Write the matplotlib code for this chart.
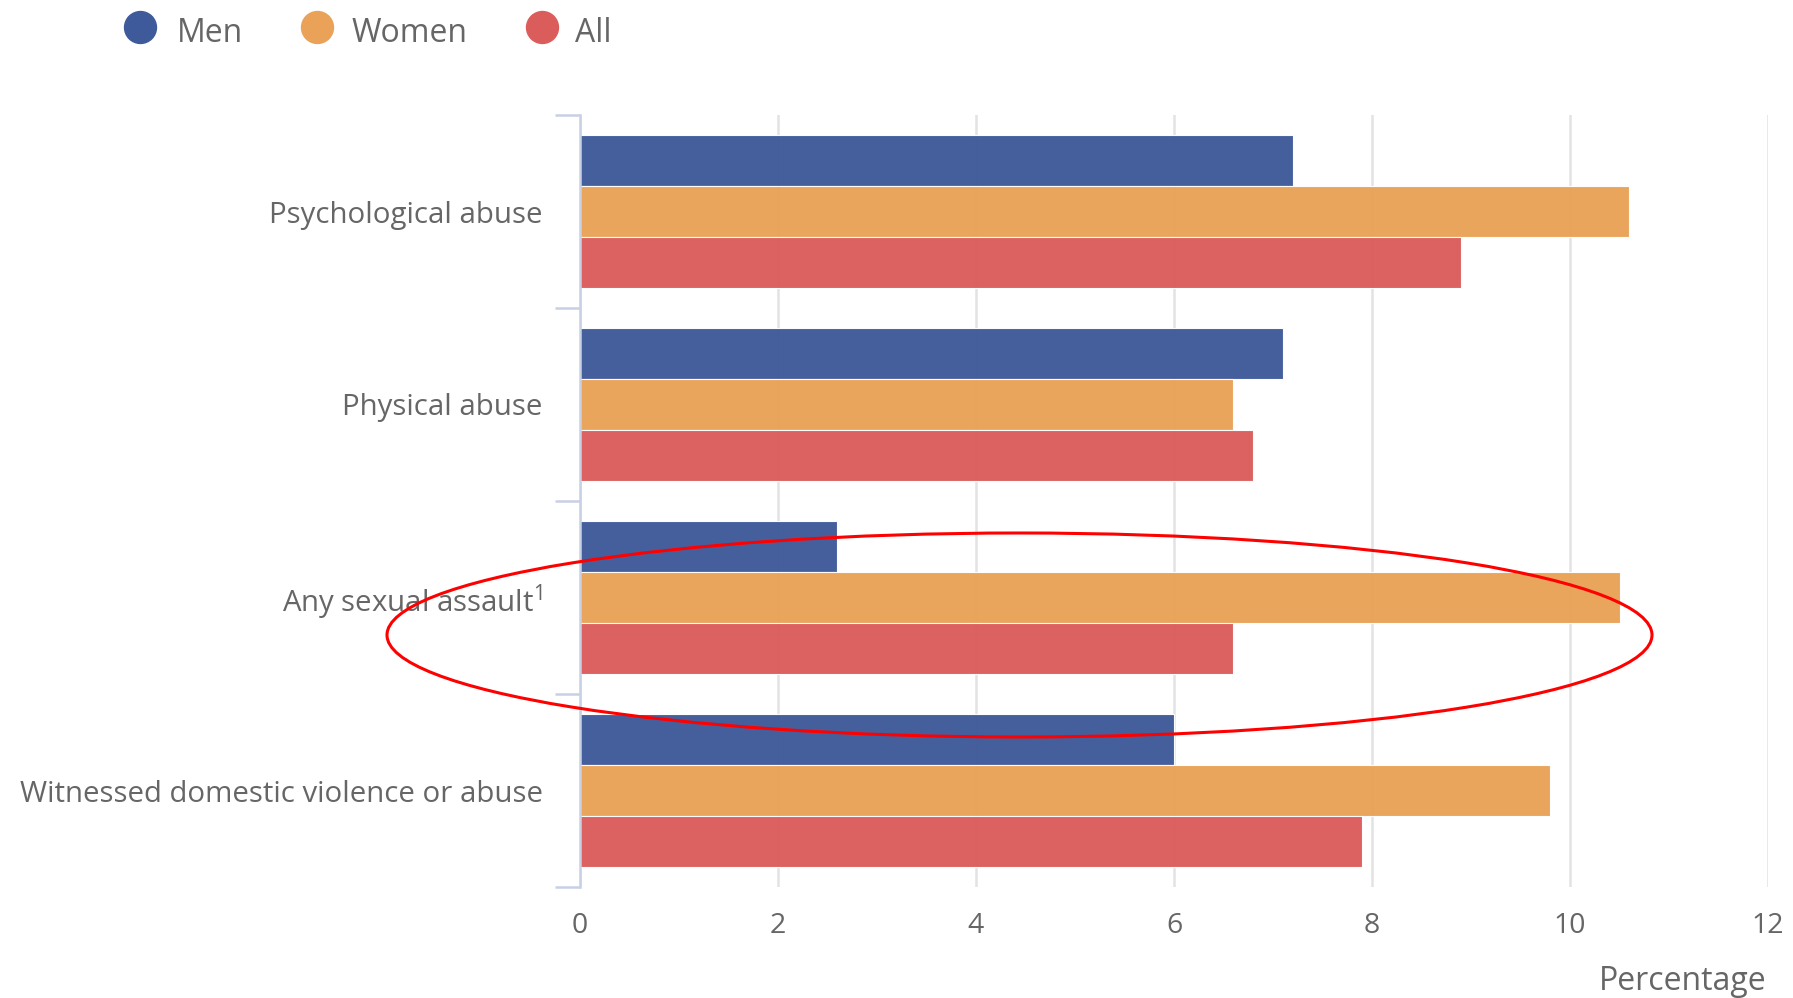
import matplotlib.pyplot as plt
from matplotlib.lines import Line2D
from matplotlib.patches import Ellipse
import numpy as np

plt.rcParams['font.family'] = ['Open Sans', 'DejaVu Sans']
plt.rcParams['mathtext.fontset'] = 'custom'
plt.rcParams['mathtext.rm'] = 'Open Sans'

categories = ['Psychological abuse', 'Physical abuse', 'Any sexual assault$^{1}$',
              'Witnessed domestic violence or abuse']
series = ['Men', 'Women', 'All']
men = [7.2, 7.1, 2.6, 6.0]
women = [10.6, 6.6, 10.5, 9.8]
all_ = [8.9, 6.8, 6.6, 7.9]
x_ticks = [0, 2, 4, 6, 8, 10, 12]

colors = ['#3f5a9a', '#e9a257', '#da5d5b']
text_col = '#666666'
axis_col = '#c8d0e4'

W, H = 1793, 998
fig = plt.figure(figsize=(W / 100, H / 100), dpi=100)
ax = fig.add_axes([580 / W, 1 - 887 / H, (1768 - 580) / W, (887 - 115) / H])

y = np.arange(len(categories))
bh = 0.264
for i, (vals, c) in enumerate(zip([men, women, all_], colors)):
    ax.barh(y + (i - 1) * bh, vals, height=bh, color=c, alpha=0.97,
            edgecolor=(1, 1, 1, 0.35), linewidth=0.8, zorder=2, label=series[i])

ax.set_xlim(0, 12)
ax.set_ylim(len(categories) - 0.5, -0.5)
ax.set_xticks(x_ticks)
ax.set_xticklabels([str(t) for t in x_ticks])
ax.set_yticks(y)
ax.set_yticklabels(categories)
ax.set_yticks(np.arange(len(categories) + 1) - 0.5, minor=True)

ax.grid(axis='x', color='#e3e3e3', linewidth=1.8, zorder=1)
ax.set_axisbelow(True)
for s in ['top', 'right', 'bottom']:
    ax.spines[s].set_visible(False)
ax.spines['left'].set_color(axis_col)
ax.spines['left'].set_linewidth(1.8)

ax.tick_params(axis='x', length=0, pad=18, labelsize=20.5, labelcolor=text_col)
ax.tick_params(axis='y', which='major', length=0, pad=27, labelsize=21.2, labelcolor=text_col)
ax.tick_params(axis='y', which='minor', length=18, width=1.8, color=axis_col)

fig.text(1767 / W, 1 - 990 / H, 'Percentage', ha='right', va='baseline',
         fontsize=23, color=text_col)

# legend drawn by hand to match spacing
leg_circle_x = [140, 317, 542]
leg_text_x = [177, 352, 575]
for name, c, cx, tx in zip(series, colors, leg_circle_x, leg_text_x):
    fig.add_artist(Line2D([cx / W], [1 - 27 / H], transform=fig.transFigure,
                          marker='o', linestyle='none', markersize=23,
                          markerfacecolor=c, markeredgecolor=c))
    fig.text(tx / W, 1 - 42 / H, name, ha='left', va='baseline',
             fontsize=23, color=text_col)

ell = Ellipse((1019.5 / W, 1 - 635 / H), 1265 / W, 204 / H, transform=fig.transFigure,
              fill=False, edgecolor='#ff0000', linewidth=2.2, zorder=10)
fig.add_artist(ell)

fig.savefig('out.png', dpi=100, facecolor='white')
